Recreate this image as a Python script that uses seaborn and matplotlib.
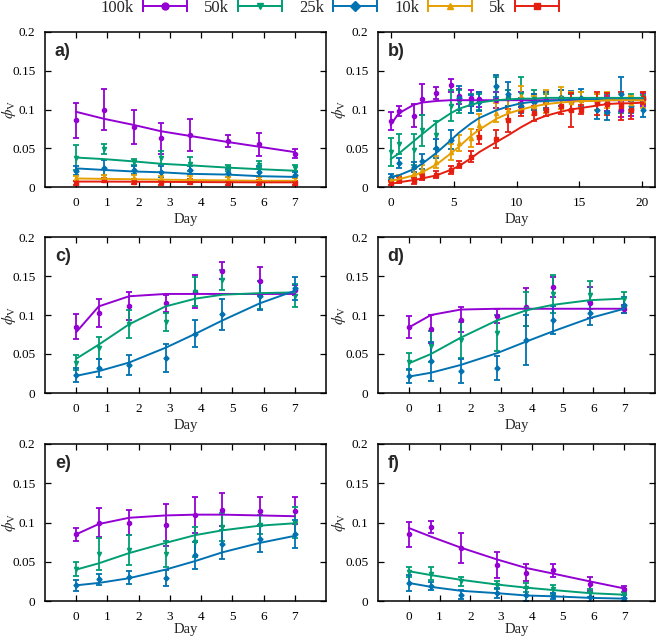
import matplotlib
matplotlib.use('Agg')
import pandas as pd
import matplotlib.pyplot as plt
import seaborn as sns
from matplotlib.lines import Line2D
from matplotlib.legend_handler import HandlerLine2D, HandlerTuple

# ---- data ----
SERIES = ['100k', '50k', '25k', '10k', '5k']
COLORS = ['#9400d3', '#009e73', '#0072b2', '#e69f00', '#e51e10']
MARKERS = ['o', 'v', 'D', '^', 's']

T_A = [0, 0.89, 1.85, 2.71, 3.63, 4.86, 5.85, 7]
T_B = [0, 0.64, 1.83, 2.5, 3.64, 4.76, 5.43, 6.38, 7.04, 8.4, 9.36, 10.35,
       11.36, 12.37, 13.5, 14.3, 15.14, 16.36, 17.2, 18.3, 19.1, 20.08]
T_C = [0, 0.72, 1.69, 2.86, 3.82, 4.68, 5.88, 7]

# panel a
a_100k = [0.086, 0.1, 0.077, 0.063, 0.067, 0.059, 0.055, 0.043]
a_100k_err = [0.023, 0.027, 0.022, 0.02, 0.021, 0.008, 0.015, 0.006]
a_100k_fit = [0.097, 0.088, 0.08, 0.072, 0.066, 0.058, 0.052, 0.045]
a_50k = [0.038, 0.049, 0.032, 0.038, 0.03, 0.025, 0.029, 0.025]
a_50k_err = [0.016, 0.006, 0.004, 0.008, 0.009, 0.004, 0.005, 0.004]
a_50k_fit = [0.038, 0.036, 0.033, 0.03, 0.028, 0.025, 0.023, 0.021]
a_25k = [0.021, 0.025, 0.022, 0.02, 0.022, 0.018, 0.02, 0.016]
a_25k_err = [0.006, 0.01, 0.005, 0.007, 0.005, 0.005, 0.007, 0.004]
a_25k_fit = [0.024, 0.022, 0.02, 0.019, 0.017, 0.016, 0.014, 0.013]
a_10k = [0.011, 0.013, 0.012, 0.011, 0.011, 0.01, 0.01, 0.009]
a_10k_err = [0.003, 0.003, 0.003, 0.003, 0.003, 0.003, 0.003, 0.003]
a_10k_fit = [0.011, 0.0105, 0.01, 0.0095, 0.009, 0.0085, 0.008, 0.008]
a_5k = [0.005, 0.009, 0.007, 0.006, 0.007, 0.005, 0.006, 0.005]
a_5k_err = [0.003, 0.003, 0.003, 0.003, 0.003, 0.003, 0.003, 0.003]
a_5k_fit = [0.007, 0.007, 0.0068, 0.0066, 0.0064, 0.0062, 0.006, 0.006]

# panel b
b_100k = [0.085, 0.098, 0.092, 0.113, 0.121, 0.131, 0.117, 0.115, 0.113, 0.112, 0.115,
          0.113, 0.11, 0.112, 0.115, 0.11, 0.112, 0.11, 0.108, 0.1, 0.101, 0.113]
b_100k_err = [0.012, 0.006, 0.015, 0.02, 0.008, 0.008, 0.01, 0.01, 0.01, 0.01, 0.01,
              0.01, 0.01, 0.01, 0.01, 0.01, 0.01, 0.01, 0.01, 0.01, 0.01, 0.008]
b_100k_fit = [0.08, 0.095, 0.106, 0.109, 0.111, 0.112, 0.112, 0.112, 0.112, 0.112, 0.112,
              0.112, 0.112, 0.112, 0.112, 0.112, 0.112, 0.112, 0.112, 0.112, 0.112, 0.112]
b_50k = [0.045, 0.055, 0.048, 0.073, 0.067, 0.105, 0.11, 0.108, 0.11, 0.128, 0.115,
         0.12, 0.113, 0.11, 0.115, 0.11, 0.112, 0.11, 0.108, 0.105, 0.11, 0.113]
b_50k_err = [0.018, 0.013, 0.02, 0.02, 0.018, 0.02, 0.015, 0.012, 0.01, 0.014, 0.01,
             0.022, 0.012, 0.01, 0.01, 0.01, 0.01, 0.01, 0.012, 0.01, 0.01, 0.006]
b_50k_fit = [0.036, 0.043, 0.059, 0.068, 0.083, 0.095, 0.101, 0.106, 0.109, 0.112, 0.113,
             0.114, 0.114, 0.115, 0.115, 0.115, 0.115, 0.115, 0.115, 0.115, 0.115, 0.115]
b_25k = [0.013, 0.031, 0.026, 0.033, 0.05, 0.061, 0.115, 0.107, 0.11, 0.13, 0.12,
         0.105, 0.11, 0.112, 0.115, 0.112, 0.115, 0.1, 0.097, 0.12, 0.105, 0.1]
b_25k_err = [0.004, 0.006, 0.006, 0.01, 0.012, 0.012, 0.015, 0.012, 0.012, 0.014, 0.015,
             0.01, 0.01, 0.01, 0.01, 0.012, 0.012, 0.012, 0.01, 0.022, 0.01, 0.01]
b_25k_fit = [0.013, 0.015, 0.023, 0.03, 0.044, 0.06, 0.07, 0.082, 0.089, 0.099, 0.104,
             0.108, 0.11, 0.111, 0.112, 0.113, 0.113, 0.113, 0.113, 0.113, 0.113, 0.113]
b_10k = [0.009, 0.012, 0.018, 0.022, 0.032, 0.045, 0.057, 0.063, 0.08, 0.096, 0.1,
         0.118, 0.105, 0.11, 0.115, 0.11, 0.112, 0.11, 0.112, 0.11, 0.108, 0.112]
b_10k_err = [0.003, 0.004, 0.005, 0.006, 0.008, 0.01, 0.01, 0.012, 0.014, 0.012, 0.012,
             0.012, 0.012, 0.015, 0.014, 0.012, 0.01, 0.01, 0.01, 0.01, 0.01, 0.01]
b_10k_fit = [0.008, 0.01, 0.015, 0.019, 0.029, 0.043, 0.052, 0.066, 0.074, 0.088, 0.095,
             0.1, 0.104, 0.107, 0.109, 0.11, 0.111, 0.111, 0.112, 0.112, 0.112, 0.112]
b_5k = [0.005, 0.009, 0.008, 0.013, 0.016, 0.022, 0.029, 0.039, 0.065, 0.062, 0.086,
        0.1, 0.095, 0.1, 0.104, 0.099, 0.1, 0.108, 0.107, 0.105, 0.1, 0.115]
b_5k_err = [0.003, 0.004, 0.004, 0.004, 0.005, 0.005, 0.004, 0.007, 0.009, 0.012, 0.015,
            0.008, 0.01, 0.008, 0.01, 0.022, 0.006, 0.015, 0.014, 0.018, 0.012, 0.008]
b_5k_fit = [0.004, 0.006, 0.009, 0.011, 0.015, 0.022, 0.027, 0.037, 0.045, 0.058, 0.067,
            0.077, 0.086, 0.092, 0.097, 0.1, 0.102, 0.105, 0.107, 0.108, 0.108, 0.109]

# panel c
c_100k = [0.085, 0.103, 0.111, 0.115, 0.13, 0.157, 0.143, 0.132]
c_100k_err = [0.016, 0.018, 0.018, 0.011, 0.021, 0.011, 0.019, 0.006]
c_100k_fit = [0.078, 0.111, 0.124, 0.127, 0.127, 0.127, 0.127, 0.127]
c_50k = [0.039, 0.058, 0.088, 0.091, 0.13, 0.145, 0.126, 0.125]
c_50k_err = [0.01, 0.014, 0.018, 0.011, 0.019, 0.013, 0.018, 0.015]
c_50k_fit = [0.044, 0.062, 0.088, 0.111, 0.121, 0.126, 0.128, 0.129]
c_25k = [0.023, 0.032, 0.036, 0.045, 0.076, 0.101, 0.125, 0.134]
c_25k_err = [0.009, 0.011, 0.013, 0.018, 0.017, 0.02, 0.018, 0.015]
c_25k_fit = [0.022, 0.028, 0.039, 0.058, 0.076, 0.093, 0.115, 0.131]

# panel d
d_100k = [0.085, 0.082, 0.094, 0.099, 0.11, 0.136, 0.116, 0.108]
d_100k_err = [0.014, 0.018, 0.016, 0.009, 0.024, 0.013, 0.02, 0.005]
d_100k_fit = [0.084, 0.1, 0.107, 0.108, 0.108, 0.108, 0.108, 0.108]
d_50k = [0.04, 0.06, 0.068, 0.077, 0.108, 0.127, 0.126, 0.12]
d_50k_err = [0.011, 0.02, 0.023, 0.023, 0.022, 0.024, 0.018, 0.01]
d_50k_fit = [0.038, 0.05, 0.071, 0.093, 0.106, 0.113, 0.119, 0.121]
d_25k = [0.022, 0.041, 0.028, 0.032, 0.068, 0.094, 0.102, 0.113]
d_25k_err = [0.009, 0.025, 0.015, 0.015, 0.032, 0.018, 0.015, 0.01]
d_25k_fit = [0.021, 0.026, 0.036, 0.051, 0.066, 0.079, 0.096, 0.108]

# panel e
e_100k = [0.085, 0.1, 0.1, 0.097, 0.11, 0.116, 0.115, 0.115]
e_100k_err = [0.008, 0.019, 0.016, 0.027, 0.023, 0.021, 0.018, 0.017]
e_100k_fit = [0.085, 0.098, 0.106, 0.109, 0.11, 0.11, 0.109, 0.108]
e_50k = [0.041, 0.06, 0.065, 0.06, 0.075, 0.094, 0.097, 0.1]
e_50k_err = [0.009, 0.02, 0.019, 0.017, 0.019, 0.018, 0.012, 0.02]
e_50k_fit = [0.04, 0.048, 0.061, 0.074, 0.084, 0.09, 0.096, 0.099]
e_25k = [0.02, 0.028, 0.03, 0.029, 0.058, 0.072, 0.079, 0.085]
e_25k_err = [0.007, 0.007, 0.008, 0.01, 0.017, 0.019, 0.017, 0.018]
e_25k_fit = [0.02, 0.023, 0.029, 0.04, 0.051, 0.062, 0.074, 0.083]

# panel f
f_100k = [0.085, 0.094, 0.068, 0.046, 0.036, 0.039, 0.022, 0.015]
f_100k_err = [0.016, 0.008, 0.019, 0.017, 0.011, 0.008, 0.009, 0.004]
f_100k_fit = [0.093, 0.082, 0.068, 0.053, 0.042, 0.035, 0.025, 0.016]
f_50k = [0.037, 0.035, 0.025, 0.02, 0.017, 0.015, 0.01, 0.008]
f_50k_err = [0.006, 0.008, 0.006, 0.005, 0.006, 0.006, 0.005, 0.004]
f_50k_fit = [0.038, 0.033, 0.027, 0.021, 0.017, 0.014, 0.01, 0.008]
f_25k = [0.023, 0.019, 0.008, 0.01, 0.008, 0.006, 0.005, 0.004]
f_25k_err = [0.01, 0.005, 0.006, 0.006, 0.008, 0.004, 0.006, 0.004]
f_25k_fit = [0.023, 0.018, 0.013, 0.01, 0.007, 0.006, 0.004, 0.003]

PANELS = [
    ('a)', (45, 326, 32, 187), T_A, [-1, 8], range(0, 8),
     [(a_100k, a_100k_err, a_100k_fit), (a_50k, a_50k_err, a_50k_fit),
      (a_25k, a_25k_err, a_25k_fit), (a_10k, a_10k_err, a_10k_fit),
      (a_5k, a_5k_err, a_5k_fit)]),
    ('b)', (378, 655, 32, 187), T_B, [-1, 21], range(0, 21, 5),
     [(b_100k, b_100k_err, b_100k_fit), (b_50k, b_50k_err, b_50k_fit),
      (b_25k, b_25k_err, b_25k_fit), (b_10k, b_10k_err, b_10k_fit),
      (b_5k, b_5k_err, b_5k_fit)]),
    ('c)', (45, 326, 237, 393), T_C, [-1, 8], range(0, 8),
     [(c_100k, c_100k_err, c_100k_fit), (c_50k, c_50k_err, c_50k_fit),
      (c_25k, c_25k_err, c_25k_fit)]),
    ('d)', (378, 655, 237, 393), T_C, [-1, 8], range(0, 8),
     [(d_100k, d_100k_err, d_100k_fit), (d_50k, d_50k_err, d_50k_fit),
      (d_25k, d_25k_err, d_25k_fit)]),
    ('e)', (45, 326, 444, 601), T_C, [-1, 8], range(0, 8),
     [(e_100k, e_100k_err, e_100k_fit), (e_50k, e_50k_err, e_50k_fit),
      (e_25k, e_25k_err, e_25k_fit)]),
    ('f)', (378, 655, 444, 601), T_C, [-1, 8], range(0, 8),
     [(f_100k, f_100k_err, f_100k_fit), (f_50k, f_50k_err, f_50k_fit),
      (f_25k, f_25k_err, f_25k_fit)]),
]

sns.set_theme(style='ticks')
plt.rcParams['font.family'] = ['Liberation Serif', 'DejaVu Serif']
plt.rcParams['mathtext.fontset'] = 'stix'

W, H = 660, 638
fig = plt.figure(figsize=(W / 100, H / 100), dpi=100)

for label, (l, r, t, b), times, xlim, xticks, series in PANELS:
    ax = fig.add_axes([l / W, 1 - b / H, (r - l) / W, (b - t) / H])
    for i, (vals, errs, fit) in enumerate(series):
        ax.errorbar(times, vals, yerr=errs, fmt=MARKERS[i], color=COLORS[i],
                    ms=3.0 if MARKERS[i] != 'D' else 2.6, capsize=2, elinewidth=1.3,
                    capthick=1.3, zorder=2)
        df = pd.DataFrame({'day': times, 'phi': fit})
        sns.lineplot(data=df, x='day', y='phi', ax=ax, color=COLORS[i],
                     lw=1.4, zorder=3)
    ax.set_xlim(xlim)
    ax.set_ylim(0, 0.2)
    ax.set_xticks(list(xticks))
    ax.set_yticks([0, 0.05, 0.1, 0.15, 0.2])
    ax.set_yticklabels(['0', '0.05', '0.1', '0.15', '0.2'])
    ax.tick_params(direction='in', top=True, right=True, length=4, width=0.9,
                   labelsize=9.5, colors='black', pad=7)
    for sp in ax.spines.values():
        sp.set_color('black')
        sp.set_linewidth(1.1)
    ax.set_xlabel('Day', fontsize=10.5)
    ax.xaxis.set_label_coords(0.5, -0.165 if b < 500 else -0.142)
    ax.set_ylabel(r'$\phi_{\mathrm{V}}$', fontsize=11)
    ylab_right = 18 if l < 300 else 348
    ax.yaxis.set_label_coords((ylab_right - l) / (r - l), 0.5)
    ax.text(0.035, 0.93, label, transform=ax.transAxes, va='top', ha='left',
            fontsize=13, fontweight='bold', family=['Liberation Sans', 'DejaVu Sans'])

# legend: text first, then an errorbar-style handle
handles = []
hmap = {}
for c, m in zip(COLORS, MARKERS):
    main = Line2D([], [], color=c, marker=m, ms=5, lw=1.4)
    caps = Line2D([], [], color=c, marker='|', ms=8, mew=1.4, ls='')
    hmap[main] = HandlerLine2D(numpoints=1)
    hmap[caps] = HandlerLine2D(numpoints=2, marker_pad=0)
    handles.append((main, caps))
hmap[tuple] = HandlerTuple(ndivide=1, pad=0)
fig.legend(handles, SERIES, loc='center', bbox_to_anchor=(0.5, 1 - 8 / H),
           ncol=5, frameon=False, markerfirst=False, handlelength=2.65,
           handletextpad=0.55, columnspacing=1.0, fontsize=12,
           borderpad=0, handler_map=hmap)

plt.savefig('out.png', dpi=100)
